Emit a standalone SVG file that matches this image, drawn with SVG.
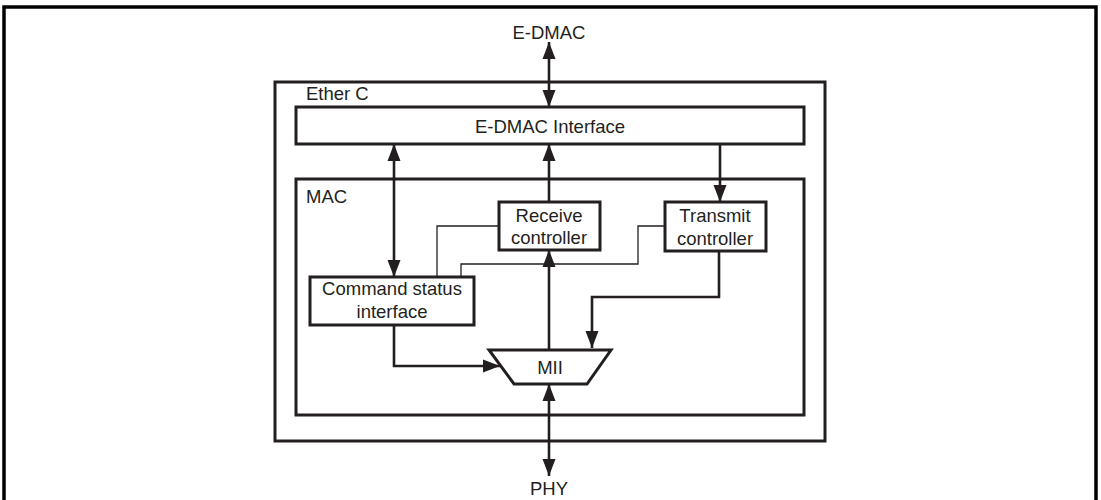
<svg xmlns="http://www.w3.org/2000/svg" width="1101" height="500" viewBox="0 0 1101 500">
<style>
text{font-family:"Liberation Sans",Arial,sans-serif;font-size:18.5px;fill:#231f20}
.c{text-anchor:middle}
.box{fill:#fff;stroke:#231f20;stroke-width:3}
.frame{fill:none;stroke:#231f20;stroke-width:3}
.thick{fill:none;stroke:#231f20;stroke-width:2.6}
.thin{fill:none;stroke:#231f20;stroke-width:1.3}
</style>
<defs>
<marker id="ah" markerUnits="userSpaceOnUse" markerWidth="18" markerHeight="14" viewBox="0 0 18 14" refX="17" refY="7" orient="auto-start-reverse">
<path d="M0,0.5 L17,7 L0,13.5 Z" fill="#231f20"/>
</marker>
</defs>
<rect x="4" y="7" width="1092" height="510" fill="none" stroke="#000" stroke-width="3.5"/>
<g id="etherc"><rect class="frame" x="275" y="82" width="550" height="359"/><text x="306" y="100">Ether C</text></g>
<g id="mac"><rect class="frame" x="296" y="179" width="508" height="236"/><text x="306" y="203">MAC</text></g>
<g id="connectors">
<line class="thick" x1="549" y1="42" x2="549" y2="107" marker-start="url(#ah)" marker-end="url(#ah)"/>
<line class="thick" x1="394" y1="144" x2="394" y2="277" marker-start="url(#ah)" marker-end="url(#ah)"/>
<line class="thick" x1="549" y1="202" x2="549" y2="144" marker-end="url(#ah)"/>
<line class="thick" x1="720" y1="144" x2="720" y2="202" marker-end="url(#ah)"/>
<polyline class="thin" points="499,226 437,226 437,277"/>
<polyline class="thin" points="461,277 461,264 638,264 638,226 665,226"/>
<line class="thick" x1="549" y1="350" x2="549" y2="250" marker-end="url(#ah)"/>
<polyline class="thick" points="719,251 719,297 592,297 592,348" marker-end="url(#ah)"/>
<polyline class="thick" points="394,325 394,366 500,366" marker-end="url(#ah)"/>
<line class="thick" x1="549" y1="384" x2="549" y2="476" marker-start="url(#ah)" marker-end="url(#ah)"/>
</g>
<g id="edmac"><text class="c" x="549" y="39">E-DMAC</text></g>
<g id="edmac-if"><rect class="box" x="296" y="107" width="508" height="37"/><text class="c" x="550" y="133">E-DMAC Interface</text></g>
<g id="rx"><rect class="box" x="499" y="202" width="101" height="48"/><text class="c" x="549" y="222">Receive</text><text class="c" x="549" y="244">controller</text></g>
<g id="tx"><rect class="box" x="665" y="202" width="101" height="49"/><text class="c" x="715" y="222">Transmit</text><text class="c" x="715" y="245">controller</text></g>
<g id="cmd"><rect class="box" x="310" y="277" width="164" height="48"/><text class="c" x="392" y="295">Command status</text><text class="c" x="392" y="318">interface</text></g>
<g id="mii"><polygon class="box" points="489,350 611,350 587,384 514,384"/><text class="c" x="550" y="374">MII</text></g>
<g id="phy"><text class="c" x="549" y="495">PHY</text></g>
</svg>
